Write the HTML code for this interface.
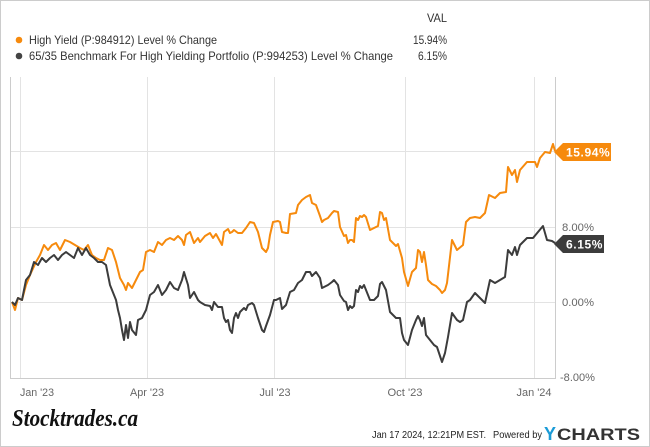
<!DOCTYPE html>
<html><head><meta charset="utf-8"><style>
body{margin:0;width:650px;height:447px;background:#fff;overflow:hidden;font-family:"Liberation Sans",sans-serif;}
.frame{position:absolute;left:0;top:0;width:648px;height:445px;border:1px solid #ccc;}
</style></head><body><div class="frame"></div>
<svg width="650" height="447" style="position:absolute;left:0;top:0" font-family="Liberation Sans, sans-serif">
<text x="447" y="22" font-size="12" fill="#333" text-anchor="end" textLength="20" lengthAdjust="spacingAndGlyphs">VAL</text>
<circle cx="19" cy="40" r="3.3" fill="#f68a0d"/>
<text x="29" y="44" font-size="12" fill="#333" textLength="188" lengthAdjust="spacingAndGlyphs">High Yield (P:984912) Level % Change</text>
<text x="447" y="44" font-size="12" fill="#333" text-anchor="end" textLength="34" lengthAdjust="spacingAndGlyphs">15.94%</text>
<circle cx="19" cy="56" r="3.3" fill="#444"/>
<text x="29" y="60" font-size="12" fill="#333" textLength="364" lengthAdjust="spacingAndGlyphs">65/35 Benchmark For High Yielding Portfolio (P:994253) Level % Change</text>
<text x="447" y="60" font-size="12" fill="#333" text-anchor="end" textLength="29" lengthAdjust="spacingAndGlyphs">6.15%</text>
<g stroke="#e3e3e3" stroke-width="1">
<line x1="10" y1="151.5" x2="555" y2="151.5"/><line x1="10" y1="227.5" x2="555" y2="227.5"/><line x1="10" y1="302.5" x2="555" y2="302.5"/>
<line x1="20.5" y1="77" x2="20.5" y2="378"/><line x1="147.5" y1="77" x2="147.5" y2="378"/><line x1="274.5" y1="77" x2="274.5" y2="378"/><line x1="405.5" y1="77" x2="405.5" y2="378"/><line x1="534.5" y1="77" x2="534.5" y2="378"/>
</g>
<path d="M10.5 77V378.5H555.5V77" fill="none" stroke="#ccc"/>
<g font-size="11" fill="#666">
<text x="562" y="155" textLength="33" lengthAdjust="spacingAndGlyphs">16.00%</text><text x="562" y="231" textLength="32" lengthAdjust="spacingAndGlyphs">8.00%</text><text x="562" y="306" textLength="32" lengthAdjust="spacingAndGlyphs">0.00%</text><text x="560" y="381" textLength="35" lengthAdjust="spacingAndGlyphs">-8.00%</text>
<text x="37" y="396" text-anchor="middle" textLength="34" lengthAdjust="spacingAndGlyphs">Jan '23</text><text x="147" y="396" text-anchor="middle" textLength="34" lengthAdjust="spacingAndGlyphs">Apr '23</text><text x="275" y="396" text-anchor="middle" textLength="31" lengthAdjust="spacingAndGlyphs">Jul '23</text><text x="405" y="396" text-anchor="middle" textLength="35" lengthAdjust="spacingAndGlyphs">Oct '23</text><text x="534" y="396" text-anchor="middle" textLength="35" lengthAdjust="spacingAndGlyphs">Jan '24</text>
</g>
<polyline fill="none" stroke="#f68a0d" stroke-width="2" stroke-linejoin="round" points="12,302 15,310 18,298 22,300 26,285 30,275 36,262 40,255 44,245 48,250 52,245 56,243 60,250 65,240 70,242 75,245 80,248 84,250 88,245 92,255 96,258 100,260 104,260 108,248 112,250 116,262 120,278 124,285 126,290 128,283 132,288 136,280 140,272 143,270 146,252 150,250 154,252 158,242 162,245 166,240 170,238 174,240 178,236 182,240 184,245 186,235 190,232 194,243 198,238 200,242 205,236 210,233 213,238 216,234 222,245 224,232 228,229 230,233 232,232 234,230 238,233 242,233 246,228 250,222 254,223 258,232 262,248 266,252 268,248 270,235 273,222 278,221 280,222 282,232 286,233 288,233 290,214 296,213 298,205 302,200 306,197 310,195 312,203 316,205 320,216 322,222 324,220 328,218 332,213 334,211 338,212 340,227 344,236 346,235 348,243 350,240 352,240 354,242 356,218 358,220 360,216 362,217 364,215 366,217 370,230 374,228 378,226 380,212 382,213 384,220 386,218 390,240 396,246 398,244 402,258 404,272 408,286 412,272 416,268 418,250 420,252 422,262 424,252 426,265 428,280 432,284 436,286 440,290 442,293 445,290 447,283 452,240 457,250 463,245 466,222 470,218 475,217 480,218 485,213 489,195 495,198 500,193 506,192 508,167 512,175 515,170 517,182 520,170 527,162 535,162 537,167 540,158 545,152 550,153 553,144 555,151"/>
<polyline fill="none" stroke="#3c3c3c" stroke-width="2" stroke-linejoin="round" points="12,302 15,305 18,298 22,300 26,280 30,275 34,262 38,265 42,258 46,262 50,258 54,255 58,260 62,255 66,252 70,255 74,258 78,248 82,255 86,248 90,255 94,258 98,262 102,262 106,265 110,285 114,295 116,300 118,310 120,318 122,330 124,340 126,325 128,338 130,322 132,330 136,335 138,320 142,318 146,310 150,295 154,292 158,285 162,295 166,290 170,282 174,288 178,290 182,280 184,272 188,285 190,298 194,292 198,300 200,302 205,305 210,306 212,310 214,302 218,307 222,307 224,318 226,322 228,320 230,330 232,333 234,318 236,313 238,318 240,312 244,308 246,310 248,305 252,303 254,305 258,318 262,330 264,332 266,326 270,315 274,300 276,300 280,298 282,309 286,305 290,292 294,290 298,283 302,280 306,272 310,272 312,276 316,272 320,278 322,288 324,287 328,285 332,282 334,280 338,285 340,295 344,301 346,302 348,310 350,306 352,308 354,306 356,290 358,292 360,286 362,288 364,285 366,290 370,300 374,300 378,296 380,284 382,282 384,286 386,290 390,312 396,318 400,318 402,333 404,340 408,345 412,330 416,320 418,316 420,320 422,326 424,318 426,335 430,340 434,345 437,347 442,362 445,353 448,337 452,313 457,320 460,322 463,320 467,302 470,300 475,293 480,298 485,303 490,280 495,283 500,280 505,277 508,250 512,255 515,247 517,255 520,245 527,238 533,238 538,232 543,226 547,240 552,241 555,243"/>
<path d="M554 152L563 143H611V161H563Z" fill="#f68a0d"/>
<text x="566" y="156.5" font-size="12" font-weight="bold" fill="#fff" letter-spacing="0.6">15.94%</text>
<path d="M554 244L563 235H604V253H563Z" fill="#3c3c3c"/>
<text x="566" y="248.5" font-size="12" font-weight="bold" fill="#fff" letter-spacing="0.6">6.15%</text>
<text x="12" y="426" font-family="Liberation Serif, serif" font-style="italic" font-weight="bold" font-size="24" fill="#111" textLength="126" lengthAdjust="spacingAndGlyphs">Stocktrades.ca</text>
<text x="372" y="438" font-size="10" fill="#222" textLength="114" lengthAdjust="spacingAndGlyphs">Jan 17 2024, 12:21PM EST.</text>
<text x="493" y="438" font-size="10" fill="#222" textLength="49" lengthAdjust="spacingAndGlyphs">Powered by</text>
<text x="544" y="440" font-size="18" font-weight="bold" fill="#1a9bd7">Y</text>
<text x="557" y="440" font-size="17" font-weight="bold" fill="#333" textLength="83" lengthAdjust="spacingAndGlyphs">CHARTS</text>
</svg></body></html>
